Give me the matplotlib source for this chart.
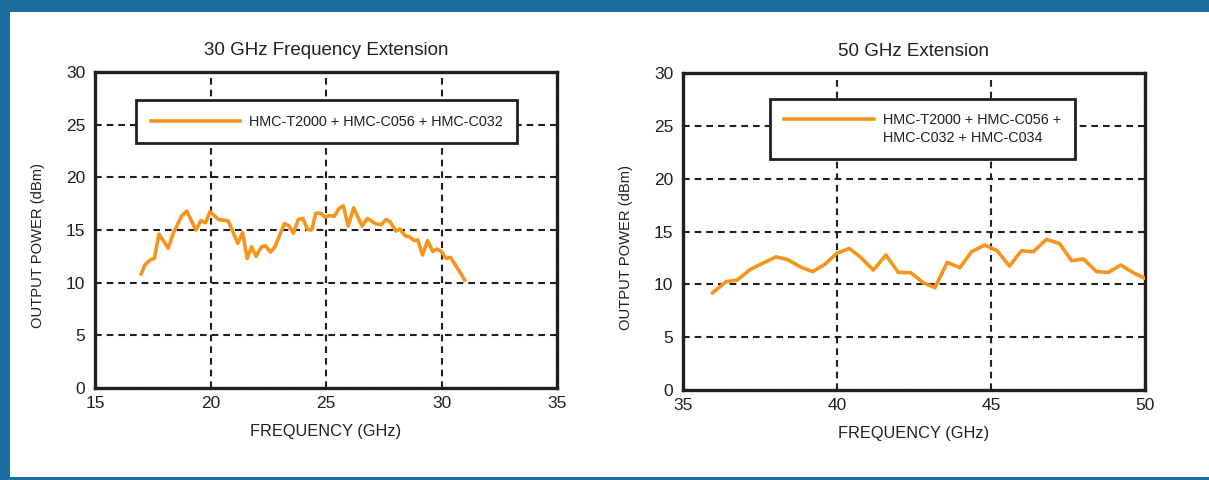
import matplotlib
matplotlib.use("Agg")
import matplotlib.pyplot as plt
from matplotlib.lines import Line2D
from matplotlib.patches import Rectangle

# DATA
freq_30 = [17.0, 17.16, 17.38, 17.57, 17.77, 18.17, 18.39, 18.75, 18.97, 19.37,
           19.59, 19.79, 19.98, 20.34, 20.77, 21.18, 21.39, 21.59, 21.78, 21.97,
           22.21, 22.38, 22.6, 22.79, 23.2, 23.4, 23.59, 23.8, 24.0, 24.2,
           24.38, 24.56, 24.78, 24.96, 25.14, 25.36, 25.57, 25.75, 25.96, 26.2,
           26.56, 26.8, 27.13, 27.38, 27.6, 27.77, 28.03, 28.2, 28.43, 28.6,
           28.82, 28.97, 29.18, 29.4, 29.62, 29.8, 29.98, 30.2, 30.39, 30.6,
           30.85, 31.0]
power_30 = [10.83, 11.68, 12.16, 12.3, 14.62, 13.27, 14.69, 16.33, 16.8, 15.0,
            15.9, 15.7, 16.75, 16.0, 15.86, 13.74, 14.75, 12.3, 13.4, 12.5,
            13.4, 13.5, 12.9, 13.4, 15.6, 15.4, 14.7, 16.0, 16.1, 15.07,
            15.0, 16.59, 16.59, 16.2, 16.37, 16.3, 17.06, 17.3, 15.38, 17.1,
            15.38, 16.1, 15.6, 15.5, 16.0, 15.8, 14.9, 15.1, 14.43, 14.37,
            14.0, 14.05, 12.63, 14.0, 12.95, 13.2, 13.0, 12.3, 12.4, 11.68,
            10.83, 10.26]

freq_50 = [35.96, 36.4, 36.76, 37.18, 37.59, 38.02, 38.39, 38.8, 39.21, 39.61,
           39.99, 40.4, 40.77, 41.18, 41.59, 41.99, 42.4, 42.8, 43.18, 43.58,
           43.99, 44.37, 44.8, 45.2, 45.6, 45.99, 46.37, 46.8, 47.22, 47.62,
           48.0, 48.43, 48.81, 49.21, 49.62, 50.0]
power_50 = [9.2, 10.25, 10.4, 11.4, 12.0, 12.6, 12.35, 11.66, 11.2, 11.9,
            12.93, 13.4, 12.55, 11.35, 12.77, 11.13, 11.1, 10.15, 9.68, 12.08,
            11.57, 13.09, 13.72, 13.18, 11.73, 13.18, 13.08, 14.25, 13.87, 12.23,
            12.4, 11.2, 11.13, 11.83, 11.1, 10.57]

label_30 = "HMC-T2000 + HMC-C056 + HMC-C032"
label_50 = ["HMC-T2000 + HMC-C056 +", "HMC-C032 + HMC-C034"]

# STYLE
ORANGE = "#F7941D"
INK = "#231F20"
BLUE = "#1B6E9E"
plt.rcParams['font.family'] = ['Liberation Sans', 'DejaVu Sans']

W, H = 1209, 480
fig = plt.figure(figsize=(W / 100, H / 100), dpi=100, facecolor=BLUE)
fig.patches.append(Rectangle((10 / W, 3 / H), 1, (H - 15) / H,
                             transform=fig.transFigure, facecolor="white",
                             edgecolor="none", zorder=-10))


def setup(ax, xlim, xticks, title):
    ax.set_xlim(*xlim)
    ax.set_ylim(0, 30)
    ax.set_xticks(xticks)
    ax.set_yticks(range(0, 31, 5))
    ax.tick_params(length=0, labelsize=12.5, colors=INK)
    ax.tick_params(axis='y', pad=7)
    ax.tick_params(axis='x', pad=6)
    for sp in ax.spines.values():
        sp.set_linewidth(2.4)
        sp.set_color(INK)
    ax.grid(True, color=INK, linestyle=(0, (3.2, 2.4)), linewidth=1.5)
    ax.set_axisbelow(True)
    ax.set_title(title, fontsize=13.5, color=INK, pad=12)
    ax.set_xlabel("FREQUENCY (GHz)", fontsize=11.8, color=INK, labelpad=9)
    ax.set_ylabel("OUTPUT POWER (dBm)", fontsize=10.6, color=INK)
    ax.yaxis.set_label_coords(-0.108, 0.45)


# LEFT
ax1 = fig.add_axes([95 / W, (H - 388) / H, 462 / W, 316 / H])
setup(ax1, (15, 35), range(15, 36, 5), "30 GHz Frequency Extension")
ax1.plot(freq_30, power_30, color=ORANGE, linewidth=2.6, zorder=3)
leg1 = ax1.legend([Line2D([], [], color=ORANGE, linewidth=2.6)], [label_30],
                  loc='upper left', bbox_to_anchor=(0.089, 0.911),
                  borderaxespad=0, fontsize=10.4, handlelength=6.2,
                  handletextpad=0.6, borderpad=1.0, fancybox=False,
                  framealpha=1, edgecolor=INK)
leg1.get_frame().set_linewidth(2.0)
for t in leg1.get_texts():
    t.set_color(INK)

# RIGHT
ax2 = fig.add_axes([683 / W, (H - 390) / H, 462 / W, 317 / H])
setup(ax2, (35, 50), range(35, 51, 5), "50 GHz Extension")
ax2.plot(freq_50, power_50, color=ORANGE, linewidth=2.6, zorder=3)
leg2 = ax2.legend([Line2D([], [], color=ORANGE, linewidth=2.6),
                   Line2D([], [], color='none')], label_50,
                  loc='upper left', bbox_to_anchor=(0.188, 0.918),
                  borderaxespad=0, fontsize=10.4, handlelength=6.2,
                  handletextpad=0.6, borderpad=1.0, labelspacing=0.25,
                  fancybox=False, framealpha=1, edgecolor=INK)
leg2.get_frame().set_linewidth(2.0)
for t in leg2.get_texts():
    t.set_color(INK)

fig.savefig("out.png", dpi=100, facecolor=fig.get_facecolor())
